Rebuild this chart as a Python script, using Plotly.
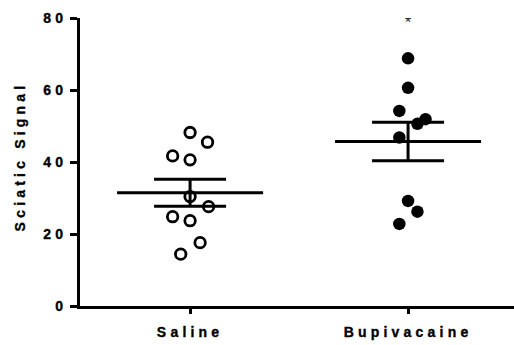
import numpy as np
import plotly.graph_objects as go

# Group labels and measured values
groups = ["Saline", "Bupivacaine"]
saline = [48.2, 45.5, 41.7, 40.6, 30.4, 27.6, 24.8, 23.7, 17.6, 14.4]
bupivacaine = [68.8, 60.6, 54.2, 51.9, 50.6, 46.8, 29.2, 26.2, 22.8]

# Horizontal spread of the dots within each column (category units)
saline_jitter = [0.0, 0.08, -0.08, 0.0, 0.0, 0.085, -0.08, 0.0, 0.046, -0.043]
bupi_jitter = [0.0, 0.0, -0.04, 0.08, 0.043, -0.04, 0.0, 0.043, -0.04]

y_ticks = [0, 20, 40, 60, 80]
y_title = "Sciatic Signal"
significance = "*"
star_level = 78.3

FONT = "Liberation Sans, Arial, sans-serif"
MEAN_HALF = 0.335

series = [saline, bupivacaine]
means = [float(np.mean(s)) for s in series]
sems = [float(np.std(s, ddof=1) / np.sqrt(len(s))) for s in series]

fig = go.Figure()

# Individual animals
fig.add_trace(go.Scatter(
    x=[0 + j for j in saline_jitter], y=saline, mode="markers",
    marker=dict(symbol="circle-open", size=10.5, color="black",
                line=dict(width=2.8, color="black")),
    showlegend=False, hoverinfo="y"))
fig.add_trace(go.Scatter(
    x=[1 + j for j in bupi_jitter], y=bupivacaine, mode="markers",
    marker=dict(symbol="circle", size=12.5, color="black"),
    showlegend=False, hoverinfo="y"))

# Mean lines
mx, my = [], []
for i, m in enumerate(means):
    mx += [i - MEAN_HALF, i + MEAN_HALF, None]
    my += [m, m, None]
fig.add_trace(go.Scatter(x=mx, y=my, mode="lines",
                         line=dict(color="black", width=3),
                         showlegend=False, hoverinfo="skip"))

# SEM whiskers
fig.add_trace(go.Scatter(
    x=[0, 1], y=means, mode="markers", marker=dict(size=0.1, color="black"),
    error_y=dict(type="data", array=sems, visible=True, color="black",
                 thickness=3, width=36),
    showlegend=False, hoverinfo="skip"))

# Significance marker
fig.add_trace(go.Scatter(
    x=[1], y=[star_level], mode="text", text=[significance],
    textfont=dict(family=FONT, size=17, color="#222"),
    textposition="middle center", showlegend=False, hoverinfo="skip"))

bold = dict(family=FONT, size=14, color="black", weight=700)

fig.update_layout(
    width=514, height=345,
    margin=dict(l=80, r=0, t=18, b=39),
    paper_bgcolor="white", plot_bgcolor="white",
    font=dict(family=FONT, color="black"),
    xaxis=dict(
        range=[-0.505, 1.486], tickmode="array", tickvals=[0, 1],
        ticktext=groups, showgrid=False, zeroline=False,
        showline=True, linecolor="black", linewidth=3,
        ticks="outside", ticklen=5, tickwidth=3, tickcolor="black",
        tickfont=bold, ticklabelstandoff=6),
    yaxis=dict(
        range=[0, 80], tickmode="array", tickvals=y_ticks,
        showgrid=False, zeroline=False,
        showline=True, linecolor="black", linewidth=3,
        ticks="outside", ticklen=7, tickwidth=3, tickcolor="black",
        tickfont=bold),
    annotations=[dict(
        text=y_title, textangle=-90, font=bold, showarrow=False,
        xref="paper", yref="paper", x=0, y=0.5,
        xanchor="center", yanchor="middle", xshift=-60, yshift=5)],
)

# Prism-style letter spacing and heavy weight on the axis text
spacing_js = """
document.querySelectorAll('.xtick text, .ytick text, .annotation-text').forEach(function (t) {
  t.style.letterSpacing = '4.2px';
  t.style.fontWeight = '700';
  t.style.stroke = 'black';
  t.style.strokeWidth = '0.35px';
});
"""

fig.write_html("out.html", post_script=spacing_js)
